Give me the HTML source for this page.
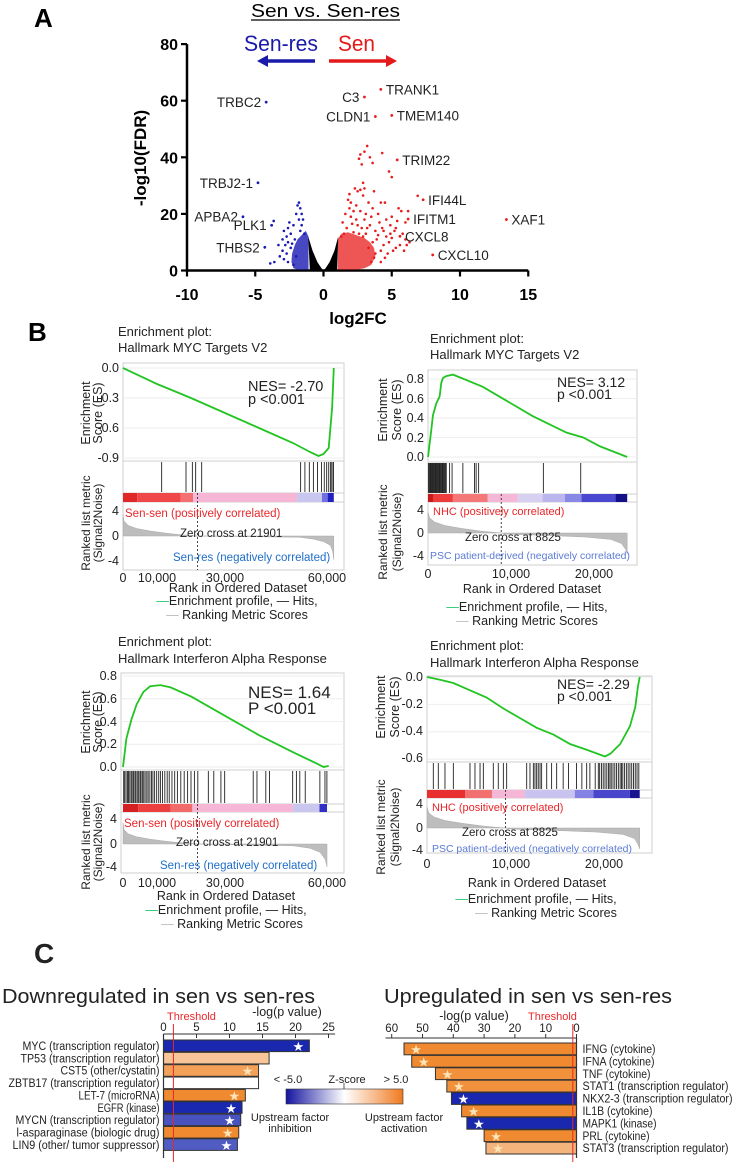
<!DOCTYPE html>
<html><head><meta charset="utf-8"><title>Sen vs Sen-res figure</title>
<style>
html,body{margin:0;padding:0;background:#fff;}
svg{display:block;font-family:"Liberation Sans",sans-serif;}
</style></head>
<body>
<svg id="fig" width="734" height="1162" viewBox="0 0 734 1162" xmlns="http://www.w3.org/2000/svg">
<rect x="0" y="0" width="734" height="1162" fill="#fff"/>

<!-- ================= PANEL A ================= -->
<g>
<text x="34" y="27" font-size="26" font-weight="bold">A</text>
<text x="251" y="17" font-size="18" textLength="149" lengthAdjust="spacingAndGlyphs">Sen vs. Sen-res</text>
<line x1="251" y1="20" x2="400" y2="20" stroke="#000" stroke-width="1.2"/>
<text x="244" y="51" font-size="22" fill="#1a1aaa" textLength="74" lengthAdjust="spacingAndGlyphs">Sen-res</text>
<text x="338" y="51" font-size="22" fill="#e41a1a" textLength="37" lengthAdjust="spacingAndGlyphs">Sen</text>
<g>
<line x1="315" y1="61" x2="266" y2="61" stroke="#1a1aaa" stroke-width="3.5"/>
<polygon points="257,61 268,55 268,67" fill="#1a1aaa"/>
</g>
<g>
<line x1="329" y1="61" x2="387" y2="61" stroke="#e41a1a" stroke-width="3.5"/>
<polygon points="397,61 386,55 386,67" fill="#e41a1a"/>
</g>
<text transform="translate(146,158) rotate(-90)" text-anchor="middle" font-size="17" font-weight="bold">-log10(FDR)</text>
<text x="358" y="324" text-anchor="middle" font-size="17" font-weight="bold">log2FC</text>
<g id="volcano"></g>
</g>

<!-- ================= PANEL B ================= -->
<text x="28" y="341" font-size="26" font-weight="bold">B</text>

<g font-size="12.5" fill="#222">
<text x="118" y="336" font-size="13">Enrichment plot:</text>
<text x="118" y="352" font-size="13">Hallmark MYC Targets V2</text>
<g id="g1"></g>
<g text-anchor="end">
<text x="119" y="372">0.0</text><text x="119" y="402">-0.3</text><text x="119" y="432">-0.6</text><text x="119" y="462">-0.9</text>
<text x="119" y="515">4</text><text x="119" y="540">0</text><text x="119" y="565">-4</text>
</g>
<text transform="translate(90,413) rotate(-90)" text-anchor="middle" font-size="12.5">Enrichment</text>
<text transform="translate(102,413) rotate(-90)" text-anchor="middle" font-size="12.5">Score (ES)</text>
<text transform="translate(90,523) rotate(-90)" text-anchor="middle" font-size="12">Ranked list metric</text>
<text transform="translate(102,523) rotate(-90)" text-anchor="middle" font-size="12">(Signal2Noise)</text>
<text x="125" y="517" font-size="11.5" fill="#e8262a">Sen-sen (positively correlated)</text>
<text x="180" y="537" font-size="11.5" fill="#222">Zero cross at 21901</text>
<text x="173" y="561" font-size="11.5" fill="#1e6ec8">Sen-res (negatively correlated)</text>
<text x="248" y="391" font-size="14.5">NES= -2.70</text>
<text x="248" y="404" font-size="14.5">p &lt;0.001</text>
<g text-anchor="middle">
<text x="123" y="582">0</text><text x="157" y="582">10,000</text><text x="225" y="582">30,000</text><text x="327" y="582">60,000</text>
</g>
<text x="238" y="592" text-anchor="middle">Rank in Ordered Dataset</text>
<text x="237" y="605" text-anchor="middle"><tspan fill="#1ec86a">—</tspan>Enrichment profile,  — Hits,</text>
<text x="237" y="619" text-anchor="middle"><tspan fill="#bbb">—</tspan> Ranking Metric Scores</text>
</g>

<g font-size="12.5" fill="#222">
<text x="430" y="343" font-size="13">Enrichment plot:</text>
<text x="430" y="359" font-size="13">Hallmark MYC Targets V2</text>
<g id="g2"></g>
<g text-anchor="end">
<text x="424" y="383">0.8</text><text x="424" y="403">0.6</text><text x="424" y="422">0.4</text><text x="424" y="442">0.2</text><text x="424" y="461">0.0</text>
<text x="424" y="514">4</text><text x="424" y="537">0</text><text x="424" y="560">-4</text>
</g>
<text transform="translate(387,410) rotate(-90)" text-anchor="middle">Enrichment</text>
<text transform="translate(401,410) rotate(-90)" text-anchor="middle">Score (ES)</text>
<text transform="translate(387,532) rotate(-90)" text-anchor="middle" font-size="12">Ranked list metric</text>
<text transform="translate(401,532) rotate(-90)" text-anchor="middle" font-size="12">(Signal2Noise)</text>
<text x="433" y="515" font-size="11" fill="#e8262a">NHC (positively correlated)</text>
<text x="465" y="541" font-size="11.5">Zero cross at 8825</text>
<text x="430" y="559" font-size="10.5" fill="#5b7bd5" textLength="200" lengthAdjust="spacingAndGlyphs">PSC patient-derived  (negatively correlated)</text>
<text x="557" y="387" font-size="14">NES= 3.12</text>
<text x="557" y="399" font-size="14">p &lt;0.001</text>
<g text-anchor="middle">
<text x="428" y="578">0</text><text x="511" y="578">10,000</text><text x="594" y="578">20,000</text>
</g>
<text x="532" y="593" text-anchor="middle">Rank in Ordered Dataset</text>
<text x="527" y="611" text-anchor="middle"><tspan fill="#1ec86a">—</tspan>Enrichment profile,  — Hits,</text>
<text x="527" y="625" text-anchor="middle"><tspan fill="#bbb">—</tspan> Ranking Metric Scores</text>
</g>

<g font-size="12.5" fill="#222">
<text x="118" y="646" font-size="13">Enrichment plot:</text>
<text x="118" y="663" font-size="13">Hallmark Interferon Alpha Response</text>
<g id="g3"></g>
<g text-anchor="end">
<text x="117" y="680">0.8</text><text x="117" y="703">0.6</text><text x="117" y="726">0.4</text><text x="117" y="748">0.2</text><text x="117" y="771">0.0</text>
<text x="117" y="823">4</text><text x="117" y="848">0</text><text x="117" y="871">-4</text>
</g>
<text transform="translate(90,722) rotate(-90)" text-anchor="middle">Enrichment</text>
<text transform="translate(102,722) rotate(-90)" text-anchor="middle">Score (ES)</text>
<text transform="translate(90,842) rotate(-90)" text-anchor="middle" font-size="12">Ranked list metric</text>
<text transform="translate(102,842) rotate(-90)" text-anchor="middle" font-size="12">(Signal2Noise)</text>
<text x="124" y="827" font-size="11.5" fill="#e8262a">Sen-sen (positively correlated)</text>
<text x="176" y="846" font-size="11.5">Zero cross at 21901</text>
<text x="160" y="869" font-size="11.5" fill="#1e6ec8">Sen-res (negatively correlated)</text>
<text x="248" y="698" font-size="17">NES= 1.64</text>
<text x="248" y="714" font-size="17">P &lt;0.001</text>
<g text-anchor="middle">
<text x="123" y="887">0</text><text x="157" y="887">10,000</text><text x="225" y="887">30,000</text><text x="327" y="887">60,000</text>
</g>
<text x="226" y="900" text-anchor="middle">Rank in Ordered Dataset</text>
<text x="226" y="914" text-anchor="middle"><tspan fill="#1ec86a">—</tspan>Enrichment profile,  — Hits,</text>
<text x="232" y="928" text-anchor="middle"><tspan fill="#bbb">—</tspan> Ranking Metric Scores</text>
</g>

<g font-size="12.5" fill="#222">
<text x="430" y="650" font-size="13">Enrichment plot:</text>
<text x="430" y="667" font-size="13">Hallmark Interferon Alpha Response</text>
<g id="g4"></g>
<g text-anchor="end">
<text x="423" y="681">0.0</text><text x="423" y="708">-0.2</text><text x="423" y="735">-0.4</text><text x="423" y="762">-0.6</text>
<text x="423" y="808">4</text><text x="423" y="832">0</text><text x="423" y="854">-4</text>
</g>
<text transform="translate(385,707) rotate(-90)" text-anchor="middle">Enrichment</text>
<text transform="translate(399,707) rotate(-90)" text-anchor="middle">Score (ES)</text>
<text transform="translate(385,827) rotate(-90)" text-anchor="middle" font-size="12">Ranked list metric</text>
<text transform="translate(399,827) rotate(-90)" text-anchor="middle" font-size="12">(Signal2Noise)</text>
<text x="432" y="811" font-size="11" fill="#e8262a">NHC (positively correlated)</text>
<text x="462" y="836" font-size="11.5">Zero cross at 8825</text>
<text x="432" y="852" font-size="10.5" fill="#5b7bd5" textLength="200" lengthAdjust="spacingAndGlyphs">PSC patient-derived  (negatively correlated)</text>
<text x="557" y="689" font-size="14">NES= -2.29</text>
<text x="557" y="701" font-size="14">p &lt;0.001</text>
<g text-anchor="middle">
<text x="427" y="868">0</text><text x="511" y="868">10,000</text><text x="604" y="868">20,000</text>
</g>
<text x="537" y="887" text-anchor="middle">Rank in Ordered Dataset</text>
<text x="536" y="903" text-anchor="middle"><tspan fill="#1ec86a">—</tspan>Enrichment profile,  — Hits,</text>
<text x="546" y="917" text-anchor="middle"><tspan fill="#bbb">—</tspan> Ranking Metric Scores</text>
</g>

<!-- ================= PANEL C ================= -->
<g fill="#222">
<text x="34" y="963" font-size="28" font-weight="bold">C</text>
<text x="2" y="1003" font-size="20" textLength="313" lengthAdjust="spacingAndGlyphs">Downregulated in sen vs sen-res</text>
<text x="384" y="1003" font-size="20" textLength="288" lengthAdjust="spacingAndGlyphs">Upregulated in sen vs sen-res</text>
<text x="167" y="1020" font-size="11" fill="#e8262a">Threshold</text>
<text x="287" y="1016" font-size="12.5" text-anchor="middle">-log(p value)</text>
<text x="528" y="1020" font-size="11" fill="#e8262a">Threshold</text>
<text x="474" y="1020" font-size="12.5" text-anchor="middle">-log(p value)</text>
<g id="cdown"></g>
<g id="cup"></g>
<defs>
<linearGradient id="zgrad" x1="0" x2="1" y1="0" y2="0">
<stop offset="0" stop-color="#1414a0"/><stop offset="0.5" stop-color="#ffffff"/><stop offset="1" stop-color="#f07a20"/>
</linearGradient>
</defs>
<g>
<rect x="286" y="1089" width="117" height="15" fill="url(#zgrad)" stroke="#333" stroke-width="0.6"/>
<line x1="344" y1="1083" x2="344" y2="1089" stroke="#333" stroke-width="0.8"/>
<text x="288" y="1083" font-size="11" text-anchor="middle">&lt; -5.0</text>
<text x="347" y="1083" font-size="11" text-anchor="middle">Z-score</text>
<text x="396" y="1083" font-size="11" text-anchor="middle">&gt; 5.0</text>
<text x="290" y="1121" font-size="11" text-anchor="middle">Upstream factor</text>
<text x="290" y="1132" font-size="11" text-anchor="middle">inhibition</text>
<text x="404" y="1121" font-size="11" text-anchor="middle">Upstream factor</text>
<text x="404" y="1132" font-size="11" text-anchor="middle">activation</text>
</g>
</g>
</svg>

<script>
// ---------------- DATA: volcano ----------------
const redX = [3.2,3.0,2.7,2.6,3.4,3.6,4.3,2.8,4.8,5.0,2.9,3.0,2.3,2.5,2.7,3.7,2.9,4.2,4.5,3.3,1.8,2.0,1.9,2.2,2.7,3.6,4.0,5.5,5.7,6.2,5.0,4.6,3.0,2.4,1.6,2.1,3.4,4.9,5.3,4.3,6.0,2.8,1.7,3.8,5.2,5.8,6.0,5.6,5.3,6.1,4.8,4.4,3.9,3.6,4.2,4.7,3.8,3.3,2.9,2.6,2.2,1.5,1.3,3.1,4.0,4.6,5.0,3.7,4.2,3.5,4.5,5.1,1.9,2.4,3.1,3.5,4.1,5.4,2.0,6.3,4.4,4.9,3.2,2.5,1.4,5.9];
const redY = [44,42,41,39.5,40,38,41.5,37.5,35,33,31,29,29,28,28.5,28,26.5,24,24,24,25,24,22,21,21,22,20,22,21,21,19,18,18,18,20,16.5,16,16,15,15,17,15,15,14,14,13,11,9,8,9,10,9,11,10,7,6,6,8,12,13,13.5,13,12,13,12.5,12,11.5,4.5,3,3,4.5,7,27,23,20,19,17,17.5,19,10,14,13,15,16,17,7];
const blueX = [-1.8,-1.9,-1.7,-1.6,-2.0,-1.5,-1.8,-2.5,-2.2,-1.6,-2.6,-2.9,-2.4,-1.4,-2.7,-3.0,-2.1,-2.6,-3.3,-2.8,-2.4,-3.0,-2.7,-3.2,-2.9,-3.6,-2.6,-2.2,-3.9,-2.0,-1.7,-2.3];
const blueY = [24,23,22,20,20,18,18,17,16,16,15,14,13,13,12,11,11,10,9,9,8,7,6,5,4,3,3,2,2.5,5,14,9.5];
const geneNames = ["TRANK1","C3","CLDN1","TMEM140","TRIM22","IFI44L","IFITM1","XAF1","CXCL8","CXCL10","TRBC2","TRBJ2-1","APBA2","PLK1","THBS2"];
const geneX = [4.2,3.0,3.8,5.0,5.4,7.3,6.2,13.4,5.6,8.0,-4.2,-4.8,-5.9,-3.8,-4.3];
const geneY = [64,61.3,54.4,54.8,39.1,25,18.2,18,12.1,5.5,59.5,31,19,16,8.2];
const geneUp = [1,1,1,1,1,1,1,1,1,1,0,0,0,0,0];
const extraUpX = [6.9], extraUpY = [26.4];
const extraDownX = [-3.65], extraDownY = [17.5];
const denseBlackX = [-1.12,-0.8,-0.45,-0.15,0,0.15,0.45,0.8,1.08,1.0,0.7,0.35,-0.35,-0.7,-1.0];
const denseBlackY = [12,7,3,0.8,0,0.8,3,7,12,0.3,0,0,0,0,0.3];
const denseBlueX = [-1.1,-1.3,-1.6,-1.9,-2.1,-2.3,-2.35,-2.2,-1.9,-1.1];
const denseBlueY = [12,14,12.5,11,9,6,3,0.8,0.3,0.3];
const denseRedX = [1.05,1.3,1.8,2.4,3.0,3.4,3.7,3.8,3.5,3.0,2.4,1.05];
const denseRedY = [11,13,13.5,12.5,11.5,10,8,5,2,0.8,0.3,0.3];
const volXTicks = [-10,-5,0,5,10,15];
const volYTicks = [0,20,40,60,80];

// ---------------- DATA: GSEA ----------------
const es1Rank = [0,10000,20000,30000,40000,50000,55000,57500,59000,60500,61500,62000];
const es1Val  = [0,-0.16,-0.3,-0.45,-0.6,-0.75,-0.84,-0.88,-0.86,-0.8,-0.4,0];
const hits1 = [11370,18530,20400,21370,23140,52240,53500,54800,56000,57200,58400,59200,59900,60500,61000,61400,61800,61900];
const m1Rank = [0,300,1500,4000,8000,12000,16000,21901,52000,56000,59000,61000,61700,62000];
const m1Val  = [3.5,2.4,1.7,1.2,0.8,0.5,0.25,0,-0.2,-0.5,-0.9,-1.5,-2.5,-3.8];
const cb1 = [[0,4200],[4200,16900],[16900,20600],[20600,51200],[51200,58500],[58500,60200],[60200,62000]];

const es2Rank = [0,400,600,1000,1400,1600,1800,2200,3000,4600,6600,8600,12600,16700,18700,20700,24000];
const es2Val  = [0,0.28,0.43,0.55,0.62,0.76,0.81,0.83,0.845,0.79,0.72,0.62,0.42,0.25,0.2,0.11,0];
const hits2 = [50,150,250,330,420,500,600,700,780,880,960,1050,1150,1230,1330,1420,1500,1600,1700,1800,1900,2000,2100,2200,2600,2900,4200,5600,5800,6100,13900,18400];
const m2Rank = [0,200,800,2000,4000,6500,8825,9500,14000,19000,22000,23300,23800,24000];
const m2Val  = [3.6,2.6,1.9,1.3,0.8,0.3,0,-0.2,-0.4,-0.7,-1.1,-1.8,-2.8,-3.6];
const cb2 = [[0,600],[600,3000],[3000,7200],[7200,10800],[10800,13800],[13800,16500],[16500,18500],[18500,22600],[22600,24000]];

const es3Rank = [0,1000,2500,4000,6000,8000,11000,14000,20000,30000,40000,50000,57000,59000,60500];
const es3Val  = [0,0.25,0.42,0.55,0.66,0.71,0.72,0.7,0.62,0.45,0.28,0.13,0.03,0,0.01];
const hits3 = [200,500,900,1300,1600,2000,2400,2700,3100,3500,3800,4200,4600,5000,5300,5700,6100,6500,7000,7400,7900,8400,8800,9300,9900,10500,11000,11600,12300,13000,13600,14400,15200,16000,17000,18000,19000,20000,21000,22000,25100,26700,28800,29900,38300,39400,42000,43100,49900,51000,52000,53600,57900,59400,59970];
const m3Rank = [0,300,1500,4000,8000,12000,16000,21901,50000,55000,58000,59500,60000];
const m3Val  = [3.5,2.4,1.7,1.2,0.8,0.5,0.25,0,-0.3,-0.7,-1.4,-2.6,-3.8];
const cb3 = [[0,4500],[4500,14000],[14000,20400],[20400,49900],[49900,57800],[57800,60000]];

const es4Rank = [0,1460,2960,4830,6700,8580,10450,12300,14200,16100,17900,20000,20600,21700,22800,23400,23700,23900];
const es4Val  = [0,-0.02,-0.044,-0.097,-0.15,-0.23,-0.30,-0.37,-0.42,-0.49,-0.53,-0.58,-0.56,-0.49,-0.36,-0.22,-0.07,0];
const hits4 = [710,1270,2020,2960,4830,5390,5960,6330,7450,8010,8580,8950,11200,11570,11950,12130,12320,12500,12700,12880,13450,14000,14570,15300,15900,16800,17400,17940,18300,18900,19250,19400,19600,19800,20000,20200,20400,20550,20700,20900,21100,21300,21500,21700,21850,22000,22200,22400,22600,22800,23000,23200,23400,23600,23800];
const m4Rank = [0,200,800,2000,4000,6500,8825,9500,14000,19000,22000,23300,23700,23900];
const m4Val  = [3.6,2.6,1.9,1.3,0.8,0.3,0,-0.2,-0.4,-0.7,-1.1,-1.8,-2.8,-3.6];
const cb4 = [[0,4270],[4270,7300],[7300,11000],[11000,16600],[16600,18700],[18700,22800],[22800,23900]];

// ---------------- DATA: upstream regulators ----------------
const downLabels = ["MYC (transcription regulator)","TP53 (transcription regulator)","CST5 (other/cystatin)","ZBTB17 (transcription regulator)","LET-7 (microRNA)","EGFR (kinase)","MYCN (transcription regulator)","l-asparaginase (biologic drug)","LIN9 (other/ tumor suppressor)"];
const downValues = [22.1,16.0,14.4,14.4,12.4,11.9,11.7,11.4,11.2];
const downZ = [-5,2.5,4,0,5,-5,-4,5,-3.8];
const downStar = [1,0,1,0,1,1,1,1,1];
const upLabels = ["IFNG (cytokine)","IFNA (cytokine)","TNF (cytokine)","STAT1 (transcription regulator)","NKX2-3 (transcription regulator)","IL1B (cytokine)","MAPK1 (kinase)","PRL (cytokine)","STAT3 (transcription regulator)"];
const upValues = [56,53.5,45.8,42.1,40.6,37.3,35.6,30,29.4];
const upZ = [5,5,4.7,4.7,-5,5,-5,5,3.2];
const upStar = [1,1,1,1,1,1,1,1,1];
const downTicks = [0,5,10,15,20,25];
const upTicks = [60,50,40,30,20,10,0];
const downThreshold = 1.5;
const upThreshold = 1.2;

// label text widths (layout, not data)
const downLabelWidths = [137,139,99,151,81,62,144,143,147];
const upLabelWidths = [73,72,68,146,150,70,74,67,146];

const NS = 'http://www.w3.org/2000/svg';
function mk(tag, attrs, parent){
  const e = document.createElementNS(NS, tag);
  for (const k in attrs) e.setAttribute(k, attrs[k]);
  parent.appendChild(e);
  return e;
}

// ---------------- volcano ----------------
(function(){
  const g = document.getElementById('volcano');
  const vx = v => 323.5 + v*13.65;
  const vy = v => 270.5 - v*2.83;
  let ax = mk('line',{x1:vx(-10),y1:vy(0),x2:vx(15),y2:vy(0),stroke:'#000','stroke-width':2.5},g);
  
  
  let ay = mk('line',{x1:vx(-10),y1:vy(0)+1,x2:vx(-10),y2:vy(80),stroke:'#000','stroke-width':2.5},g);
  
  
  volXTicks.forEach(t=>{
    const l = mk('line',{x1:vx(t),y1:vy(0),x2:vx(t),y2:vy(0)+6,stroke:'#000','stroke-width':2.2},g);
    
    
    const tx = mk('text',{x:vx(t),y:300,'text-anchor':'middle','font-size':16,'font-weight':'bold'},g);
    tx.textContent = String(t);
    
    
  });
  volYTicks.forEach(t=>{
    const l = mk('line',{x1:vx(-10)-6,y1:vy(t),x2:vx(-10),y2:vy(t),stroke:'#000','stroke-width':2.2},g);
    
    
    const tx = mk('text',{x:vx(-10)-9,y:vy(t)+6,'text-anchor':'end','font-size':16,'font-weight':'bold'},g);
    tx.textContent = String(t);
    
    
  });
  function poly(xs, ys, fill, op, name){
    const p = mk('polygon',{points: xs.map((x,i)=>vx(x)+','+vy(ys[i])).join(' '), fill: fill, 'fill-opacity': op},g);
    
    
  }
  poly(denseBlueX, denseBlueY, '#1a1ab4', 0.8, 'blue-dense-cloud');
  poly(denseRedX, denseRedY, '#e81c1c', 0.75, 'red-dense-cloud');
  poly(denseBlackX, denseBlackY, '#000', 1, 'black-dense-cloud');
  function dots(xs, ys, fill, name){
    xs.forEach((x,i)=>{
      const c = mk('circle',{cx:vx(x),cy:vy(ys[i]),r:1.3,fill:fill},g);
      
      
    });
  }
  dots(redX, redY, '#e81c1c', 'up-gene-point');
  dots(blueX, blueY, '#1a1ab4', 'down-gene-point');
  dots(extraUpX, extraUpY, '#e81c1c', 'up-gene-point');
  dots(extraDownX, extraDownY, '#1a1ab4', 'down-gene-point');
  geneNames.forEach((n,i)=>{
    const up = geneUp[i] === 1;
    const c = mk('circle',{cx:vx(geneX[i]),cy:vy(geneY[i]),r:1.4,fill: up?'#e81c1c':'#1a1ab4'},g);
    
    
    const leftSide = (n==='C3'||n==='CLDN1'||!up);
    const t = mk('text',{x: vx(geneX[i]) + (leftSide?-5:5), y: vy(geneY[i])+5, 'text-anchor': leftSide?'end':'start','font-size':13.5,fill:'#222'},g);
    t.textContent = n;
    
    
  });
})();

// ---------------- GSEA ----------------
const cbColors1 = ['#e02828','#f04848','#f57070','#f6b6d6','#c9c6ef','#7070e0','#2020c0'];
const cbColors2 = ['#c81818','#ee3c3c','#f57878','#f6b6d6','#d8d0f0','#bbb6ee','#8a88e6','#4a48d0','#14108a'];
const cbColors3 = ['#d42020','#ec4040','#f36a6a','#f6b6d6','#cac6f0','#3030c8'];
const cbColors4 = ['#e83030','#f27070','#f6b6d6','#c8c4ef','#8482e4','#4a46cc','#1a1490'];

function gsea(id, geo, esR, esV, hits, mR, mV, cb, cbCol, zeroRank, gridEs){
  const g = document.getElementById(id);
  const X = r => geo.x0 + r/1000*geo.pxk;
  const YE = v => geo.es0 - v*geo.esk;
  const YM = v => geo.m0 - v*geo.mk;
  const fr = mk('rect',{x:geo.left,y:geo.top,width:geo.right-geo.left,height:geo.mBot-geo.top,fill:'#fff',stroke:'#cfcfcf','stroke-width':1},g);
  
  
  gridEs.forEach(v=>{
    const l = mk('line',{x1:geo.left,x2:geo.right,y1:YE(v),y2:YE(v),stroke:'#eeeeee','stroke-width':1},g);
    
    
  });
  [geo.esBot, geo.hBot, geo.cBot].forEach(y=>{
    const l = mk('line',{x1:geo.left,x2:geo.right,y1:y,y2:y,stroke:'#cfcfcf','stroke-width':1},g);
    
    
  });
  hits.forEach(r=>{
    const l = mk('line',{x1:X(r),x2:X(r),y1:geo.esBot+1,y2:geo.hBot-1,stroke:'#222','stroke-width':0.9},g);
    
    
  });
  cb.forEach((s,i)=>{
    const r = mk('rect',{x:X(s[0]),y:geo.hBot,width:Math.max(0.5,X(s[1])-X(s[0])),height:geo.cBot-geo.hBot,fill:cbCol[i]},g);
    
    
  });
  const pts = [X(mR[0])+','+YM(0)].concat(mR.map((r,i)=>X(r)+','+YM(mV[i]))).concat([X(mR[mR.length-1])+','+YM(0)]);
  const ma = mk('polygon',{points:pts.join(' '),fill:'#bdbdbd',stroke:'#aaa','stroke-width':0.5},g);
  
  
  const zl = mk('line',{x1:X(zeroRank),x2:X(zeroRank),y1:geo.hBot,y2:geo.mBot,stroke:'#333','stroke-width':0.9,'stroke-dasharray':'2,2'},g);
  
  
  const es = mk('polyline',{points: esR.map((r,i)=>X(r)+','+YE(esV[i])).join(' '),fill:'none',stroke:'#22c422','stroke-width':1.8},g);
  
  
}

gsea('g1',{left:123,right:344,top:363,esBot:461,hBot:493,cBot:502,mBot:570,x0:123,pxk:3.4,es0:368,esk:100,m0:536,mk:6.25},
  es1Rank,es1Val,hits1,m1Rank,m1Val,cb1,cbColors1,21901,[0,-0.3,-0.6,-0.9]);
gsea('g2',{left:428,right:637,top:370,esBot:462,hBot:494,cBot:502,mBot:565,x0:428,pxk:8.3,es0:457,esk:97.5,m0:533,mk:5.8},
  es2Rank,es2Val,hits2,m2Rank,m2Val,cb2,cbColors2,8825,[0,0.2,0.4,0.6,0.8]);
gsea('g3',{left:121,right:344,top:673,esBot:770,hBot:804,cBot:812,mBot:873,x0:123,pxk:3.4,es0:767,esk:113.75,m0:844,mk:6},
  es3Rank,es3Val,hits3,m3Rank,m3Val,cb3,cbColors3,21901,[0,0.2,0.4,0.6,0.8]);
gsea('g4',{left:427,right:652,top:676,esBot:762,hBot:790,cBot:798,mBot:853,x0:427,pxk:8.9,es0:677,esk:137,m0:828,mk:5.8},
  es4Rank,es4Val,hits4,m4Rank,m4Val,cb4,cbColors4,8825,[0,-0.2,-0.4,-0.6]);

// ---------------- Upstream regulator bars ----------------
function zColor(z){
  const t = Math.max(-1, Math.min(1, z/5));
  const w = [255,255,255], b = [26,40,176], o = [240,138,48];
  const c = t < 0 ? b : o, a = Math.abs(t);
  return 'rgb(' + w.map((v,i)=>Math.round(v*(1-a)+c[i]*a)).join(',') + ')';
}
(function(){
  const g = document.getElementById('cdown');
  const X = v => 163.5 + v*6.6;
  const rowY = i => 1040 + i*12.35;
  const ax = mk('line',{x1:X(0),x2:X(26),y1:1034,y2:1034,stroke:'#333','stroke-width':1},g);
  
  
  downTicks.forEach(t=>{
    const l = mk('line',{x1:X(t),x2:X(t),y1:1034,y2:1038,stroke:'#333','stroke-width':1},g);
    
    
    const tx = mk('text',{x:X(t),y:1031,'text-anchor':'middle','font-size':11.5,fill:'#222'},g);
    tx.textContent = String(t);
    
    
  });
  downValues.forEach((v,i)=>{
    const r = mk('rect',{x:X(0),y:rowY(i),width:X(v)-X(0),height:11.6,fill:zColor(downZ[i]),stroke:'#333','stroke-width':1},g);
    
    
    const t = mk('text',{x:159.5,y:rowY(i)+10,'text-anchor':'end','font-size':11.5,fill:'#222',textLength:downLabelWidths[i],lengthAdjust:'spacingAndGlyphs'},g);
    t.textContent = downLabels[i];
    
    
    if (downStar[i]) {
      const s = mk('text',{x:X(v)-11,y:rowY(i)+11,'text-anchor':'middle','font-size':13,fill: downZ[i]<0?'#fff':'#fde4b8'},g);
      s.textContent = '★';
      
      
    }
  });
  const va = mk('line',{x1:X(0),x2:X(0),y1:1034,y2:1158,stroke:'#333','stroke-width':1.2},g);
  
  
  const th = mk('line',{x1:X(downThreshold),x2:X(downThreshold),y1:1024,y2:1162,stroke:'#e8262a','stroke-width':1},g);
  
  
})();
(function(){
  const g = document.getElementById('cup');
  const X = v => 576.5 - v*3.08;
  const rowY = i => 1043 + i*12.4;
  const ax = mk('line',{x1:X(62),x2:X(0),y1:1038,y2:1038,stroke:'#333','stroke-width':1},g);
  
  
  upTicks.forEach(t=>{
    const l = mk('line',{x1:X(t),x2:X(t),y1:1034,y2:1038,stroke:'#333','stroke-width':1},g);
    
    
    const tx = mk('text',{x:X(t),y:1032,'text-anchor':'middle','font-size':11.5,fill:'#222'},g);
    tx.textContent = String(t);
    
    
  });
  upValues.forEach((v,i)=>{
    const r = mk('rect',{x:X(v),y:rowY(i),width:X(0)-X(v),height:11.8,fill:zColor(upZ[i]),stroke:'#333','stroke-width':1},g);
    
    
    const t = mk('text',{x:582.5,y:rowY(i)+10,'text-anchor':'start','font-size':11.5,fill:'#222',textLength:upLabelWidths[i],lengthAdjust:'spacingAndGlyphs'},g);
    t.textContent = upLabels[i];
    
    
    if (upStar[i]) {
      const s = mk('text',{x:X(v)+12,y:rowY(i)+11,'text-anchor':'middle','font-size':13,fill: upZ[i]<0?'#fff':'#fde4b8'},g);
      s.textContent = '★';
      
      
    }
  });
  const va = mk('line',{x1:X(0),x2:X(0),y1:1038,y2:1158,stroke:'#333','stroke-width':1.2},g);
  
  
  const th = mk('line',{x1:X(upThreshold),x2:X(upThreshold),y1:1024,y2:1162,stroke:'#e8262a','stroke-width':1},g);
  
  
})();
</script>
</body></html>
